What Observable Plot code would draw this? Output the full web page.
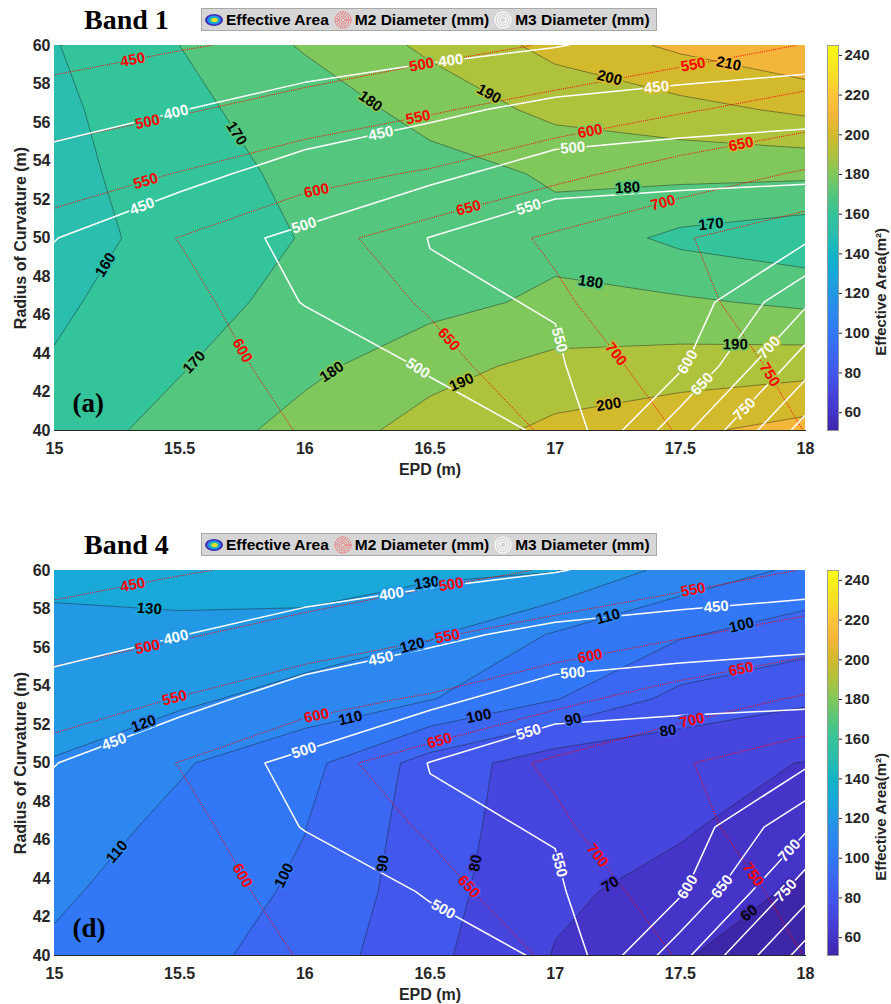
<!DOCTYPE html>
<html>
<head>
<meta charset="utf-8">
<script src="https://cdn.jsdelivr.net/npm/d3@7"></script>
<script src="https://cdn.jsdelivr.net/npm/@observablehq/plot@0.6"></script>
<style>
  html, body { margin:0; padding:0; background:#fff; }
  #root { position:relative; width:891px; height:1004px; overflow:hidden; font-family:'Liberation Sans', Arial, Helvetica, sans-serif; }
  .abs { position:absolute; }
  .title { font-family:'Liberation Serif','Times New Roman',serif; font-weight:bold; font-size:28px; color:#000; line-height:1; }
  .legend { background:#d6d6d6; border:1px solid #a8a8a8; height:23px; display:flex; align-items:center; font-weight:bold; font-size:15.5px; color:#000; white-space:nowrap; box-sizing:border-box; padding-left:1px; }
  .legend svg { margin:0 2px 0 1px; }
  .legend span { margin-right:3px; }
</style>
</head>
<body>
<div id="root"></div>
<script>
// ---------------- data ----------------
const epd = [15, 15.5, 16, 16.5, 17, 17.5, 18];                 // EPD grid (m)
const roc = [40, 43.33, 46.67, 50, 53.33, 56.67, 60];           // radius of curvature grid (m)
const xTicks = [15, 15.5, 16, 16.5, 17, 17.5, 18];
const yTicks = [40, 42, 44, 46, 48, 50, 52, 54, 56, 58, 60];
const cbTicks = [60, 80, 100, 120, 140, 160, 180, 200, 220, 240];
const areaLevels = [50, 60, 70, 80, 90, 100, 110, 120, 130, 140, 150, 160, 170, 180, 190, 200, 210, 220, 230, 240];
const m2Levels = [450, 500, 550, 600, 650, 700, 750];
const m3Levels = [400, 450, 500, 550, 600, 650, 700, 750, 800, 850];
const areaRange = [51, 245];

// rows: first row = 40 m, last row = 60 m; columns follow epd
const m2Diameter = [
  [558, 580, 602, 625, 655, 703, 751],
  [562, 584, 612, 638, 673, 721, 764],
  [568, 590, 625, 654, 693, 736, 780],
  [572, 601, 635, 670, 707, 746, 782],
  [525, 552, 585, 605, 638, 672, 706],
  [476, 495, 520, 545, 570, 595, 620],
  [428, 446, 462, 483, 504, 527, 552]
];
const m3Diameter = [
  [468, 472, 480, 490, 503, 684, 872],
  [468, 475, 485, 502, 546, 592, 781],
  [466, 478, 501, 545, 552, 565, 692],
  [449, 483, 508, 551, 592, 580, 591],
  [417, 437, 468, 489, 523, 539.5, 542],
  [383, 399, 420, 440, 462.5, 469, 482],
  [350, 362, 373, 385, 398, 420, 424]
];
const areaBand1 = [
  [165, 173.5, 184, 194, 202.5, 208, 214],
  [161, 169.3, 177.5, 186.5, 193, 194.5, 196],
  [158, 167, 172.4, 176.8, 182, 181.5, 178],
  [155, 164.3, 170.5, 175, 177, 167.5, 163],
  [156, 166.5, 171.8, 176, 181.2, 182.5, 182],
  [157.5, 168, 174, 183.7, 192.7, 196.6, 202],
  [159.5, 170, 181, 192, 203, 212, 219]
];
const areaBand4 = [
  [108.5, 103, 96, 82.4, 69.5, 61, 52],
  [111.5, 105, 98.5, 84, 71.6, 67, 58],
  [115, 107.5, 100.2, 85, 73, 71, 65],
  [119.5, 111, 103, 86, 74, 72, 69.8],
  [124.3, 122, 116, 110.5, 100.5, 87, 81.5],
  [128, 127, 126, 121, 109, 101, 95],
  [132, 135, 135.5, 132, 130.5, 116, 108]
];
// colormap (parula-like), stops keyed by effective-area value
const cmapValues = [50, 60, 70, 80, 90, 100, 110, 120, 130, 140, 150, 160, 170, 180, 190, 200, 210, 220, 230, 245];
const cmapColors = ["#3e26a8", "#4434c8", "#4645dd", "#4257eb", "#3b67f2", "#3278f6", "#2c88ef", "#2398e4", "#18a9d9", "#12b5c6",
                    "#2bbdad", "#34c49b", "#55c67d", "#80c85c", "#aec23c", "#d3b92c", "#f4b63a", "#fcc53a", "#f6df26", "#f9fb15"];

// ---------------- layout / helpers ----------------
const FONT = "'Liberation Sans', Arial, Helvetica, sans-serif";
const SERIF = "'Liberation Serif', 'Times New Roman', serif";
const W = 891, H = 490, ML = 54, MR = 86, MT = 45, MB = 60;
const FRAME = {left: ML, right: W - MR, top: MT, bottom: H - MB};
const NX = epd.length, NY = roc.length;
const DX = (epd[NX - 1] - epd[0]) / (NX - 1), DY = (roc[NY - 1] - roc[0]) / (NY - 1);
const X1 = epd[0] - DX / 2, X2 = epd[NX - 1] + DX / 2, Y1 = roc[0] - DY / 2, Y2 = roc[NY - 1] + DY / 2;
const grid = {width: NX, height: NY, x1: X1, x2: X2, y1: Y1, y2: Y2, clip: true};

const colorOf = d3.scaleLinear(cmapValues, cmapColors).interpolate(d3.interpolateRgb).clamp(true);
const colorScale = {type: "linear", domain: cmapValues, range: cmapColors, interpolate: "rgb", clamp: true};

const sx = d3.scaleLinear([epd[0], epd[NX - 1]], [FRAME.left, FRAME.right]);
const sy = d3.scaleLinear([roc[0], roc[NY - 1]], [FRAME.bottom, FRAME.top]);
const EPS = 1e-6;
const inside = ([x, y]) => x >= epd[0] - EPS && x <= epd[NX - 1] + EPS && y >= roc[0] - EPS && y <= roc[NY - 1] + EPS;

function bilinear(rows, x, y) {
  const fx = (x - epd[0]) / DX, fy = (y - roc[0]) / DY;
  const i = Math.max(0, Math.min(NX - 2, Math.floor(fx))), j = Math.max(0, Math.min(NY - 2, Math.floor(fy)));
  const u = Math.max(0, Math.min(1, fx - i)), v = Math.max(0, Math.min(1, fy - j));
  return rows[j][i] * (1 - u) * (1 - v) + rows[j][i + 1] * u * (1 - v) + rows[j + 1][i] * (1 - u) * v + rows[j + 1][i + 1] * u * v;
}
function bandColor(v) {
  let lv = areaLevels[0];
  for (const l of areaLevels) if (v >= l) lv = l;
  return colorOf(lv);
}

function contourRuns(rows, t) {
  const geo = d3.contours().size([NX, NY]).contour(rows.flat(), t);
  const runs = [];
  for (const poly of geo.coordinates) for (const ring of poly) {
    const pts = ring.slice(0, -1).map(([i, j]) => [X1 + i * DX, Y1 + j * DY]);
    const k = pts.findIndex(p => !inside(p));
    if (k < 0) { runs.push([...pts, pts[0]]); continue; }
    const seq = pts.slice(k).concat(pts.slice(0, k + 1));
    let cur = [];
    for (const p of seq) {
      if (inside(p)) cur.push(p);
      else { if (cur.length > 1) runs.push(cur); cur = []; }
    }
    if (cur.length > 1) runs.push(cur);
  }
  return runs;
}

function makeLabels(rows, levels, color, area, placed, minLen = 70) {
  const out = [];
  for (const t of levels) for (const run of contourRuns(rows, t)) {
    let P = run.map(([x, y]) => [sx(x), sy(y)]);
    if (P[0][0] > P[P.length - 1][0]) P = P.reverse();
    const cum = [0];
    for (let i = 1; i < P.length; i++) cum.push(cum[i - 1] + Math.hypot(P[i][0] - P[i - 1][0], P[i][1] - P[i - 1][1]));
    const L = cum[cum.length - 1];
    if (L < minLen) continue;
    const at = s => {
      s = Math.max(0, Math.min(L, s));
      let i = d3.bisectLeft(cum, s);
      i = Math.max(1, Math.min(P.length - 1, i));
      const f = (s - cum[i - 1]) / ((cum[i] - cum[i - 1]) || 1);
      return [P[i - 1][0] + f * (P[i][0] - P[i - 1][0]), P[i - 1][1] + f * (P[i][1] - P[i - 1][1])];
    };
    const stations = [];
    if (L < 200) stations.push(L / 2);
    else for (let s = 95; s < L - 55; s += 280) stations.push(s);
    for (const s0 of stations) {
      for (const off of [0, 30, -30, 60, -60]) {
        const s = s0 + off;
        if (s < 20 || s > L - 20) continue;
        const [px, py] = at(s);
        if (py < FRAME.top + 9 || py > FRAME.bottom - 9 || px < FRAME.left + 15 || px > FRAME.right - 15) continue;
        if (placed.some(q => Math.hypot(q[0] - px, q[1] - py) < 24)) continue;
        const a = at(s - 14), b = at(s + 14);
        let ang = Math.atan2(b[1] - a[1], b[0] - a[0]) * 180 / Math.PI;
        if (ang > 90) ang -= 180;
        if (ang < -90) ang += 180;
        const x = sx.invert(px), y = sy.invert(py);
        placed.push([px, py]);
        out.push({x, y, text: String(t), angle: ang, color, halo: bandColor(bilinear(area, x, y))});
        break;
      }
    }
  }
  return out;
}

const root = document.getElementById("root");

function addHeader(title, top) {
  const t = document.createElement("div");
  t.className = "title abs";
  t.style.left = "84px"; t.style.top = (top + 6) + "px";
  t.textContent = title;
  root.append(t);
  const lg = document.createElement("div");
  lg.className = "legend abs";
  lg.style.left = "201px"; lg.style.top = (top + 8) + "px"; lg.style.width = "456px";
  lg.innerHTML =
    '<svg width="20" height="14" viewBox="0 0 20 14"><ellipse cx="10" cy="7" rx="9" ry="6" fill="#3b2bb5"/><ellipse cx="10" cy="7" rx="7" ry="4.6" fill="#2f7ff0"/><ellipse cx="10" cy="7" rx="5.2" ry="3.4" fill="#19b9b9"/><ellipse cx="10.5" cy="7" rx="3.2" ry="2.1" fill="#ece024"/></svg><span>Effective Area</span>' +
    '<svg width="20" height="18" viewBox="0 0 20 18"><g fill="none" stroke="#ff3030" stroke-width="1" stroke-dasharray="1 0.8"><circle cx="10" cy="9" r="8"/><circle cx="10" cy="9" r="6"/><circle cx="10" cy="9" r="4"/><circle cx="10" cy="9" r="2"/></g></svg><span>M2 Diameter (mm)</span>' +
    '<svg width="20" height="18" viewBox="0 0 20 18"><g fill="none" stroke="#ffffff" stroke-width="1.1"><circle cx="10" cy="9" r="8"/><circle cx="10" cy="9" r="5.5"/><circle cx="10" cy="9" r="3"/></g></svg><span>M3 Diameter (mm)</span>';
  root.append(lg);
}

function drawPanel(area, tag, top) {
  const placed = [];
  const labels = [
    ...makeLabels(area, areaLevels, "#000000", area, placed),
    ...makeLabels(m2Diameter, m2Levels, "#ff0000", area, placed),
    ...makeLabels(m3Diameter, m3Levels, "#ffffff", area, placed)
  ];
  const plot = Plot.plot({
    width: W, height: H, marginLeft: ML, marginRight: MR, marginTop: MT, marginBottom: MB,
    style: {fontFamily: FONT, fontSize: "16px", fontWeight: "bold", color: "#262626", background: "transparent", overflow: "visible"},
    x: {domain: [epd[0], epd[NX - 1]], ticks: xTicks, tickFormat: d => String(d), tickSize: 0, tickPadding: 12, label: "EPD (m)", labelAnchor: "center", labelOffset: 44, labelArrow: false, line: true},
    y: {domain: [roc[0], roc[NY - 1]], ticks: yTicks, tickFormat: d => String(d), tickSize: 0, tickPadding: 4, label: "Radius of Curvature (m)", labelAnchor: "center", labelOffset: 40, labelArrow: false, line: true},
    color: colorScale,
    marks: [
      Plot.contour(area.flat(), {...grid, fill: Plot.identity, thresholds: areaLevels, stroke: "#1a1a1a", strokeWidth: 0.5, strokeOpacity: 0.85}),
      Plot.contour(m2Diameter.flat(), {...grid, value: Plot.identity, thresholds: m2Levels, fill: "none", stroke: "#ff0000", strokeWidth: 1, strokeDasharray: "1 1.2"}),
      Plot.contour(m3Diameter.flat(), {...grid, value: Plot.identity, thresholds: m3Levels, fill: "none", stroke: "#ffffff", strokeWidth: 1.5}),
      Plot.text(labels, {x: "x", y: "y", text: "text", rotate: "angle", fill: "color", stroke: "halo", strokeWidth: 3.5, paintOrder: "stroke", strokeLinejoin: "round", fontSize: 15, fontWeight: "bold", fontFamily: FONT}),
      Plot.text([tag], {frameAnchor: "bottom-left", dx: 18, dy: -19, lineAnchor: "bottom", textAnchor: "start", fontFamily: SERIF, fontSize: 27, fontWeight: "bold", fill: "#000"})
    ]
  });
  plot.style.position = "absolute"; plot.style.left = "0px"; plot.style.top = top + "px";
  root.append(plot);

  const cb = Plot.plot({
    width: 91, height: H, marginLeft: 27, marginRight: 53, marginTop: MT, marginBottom: MB,
    style: {fontFamily: FONT, fontSize: "15px", fontWeight: "bold", color: "#262626", background: "transparent", overflow: "visible"},
    x: {domain: [0, 1], axis: null},
    y: {domain: areaRange, axis: null},
    color: colorScale,
    marks: [
      Plot.raster({fill: (x, y) => y, x1: 0, x2: 1, y1: areaRange[0], y2: areaRange[1], width: 1, height: 256}),
      Plot.frame({stroke: "#8a8a8a", strokeWidth: 0.8}),
      Plot.axisY({anchor: "right", ticks: cbTicks, tickSize: 3, tickPadding: 3, label: null}),
      Plot.text(["Effective Area(m²)"], {frameAnchor: "right", dx: 43, dy: -10, rotate: -90, fontSize: 15, fontWeight: "bold", fontFamily: FONT, fill: "#262626"})
    ]
  });
  cb.style.position = "absolute"; cb.style.left = "800px"; cb.style.top = top + "px";
  root.append(cb);
}

addHeader("Band 1", 0);
drawPanel(areaBand1, "(a)", 0);
addHeader("Band 4", 525);
drawPanel(areaBand4, "(d)", 525);
</script>
</body>
</html>
